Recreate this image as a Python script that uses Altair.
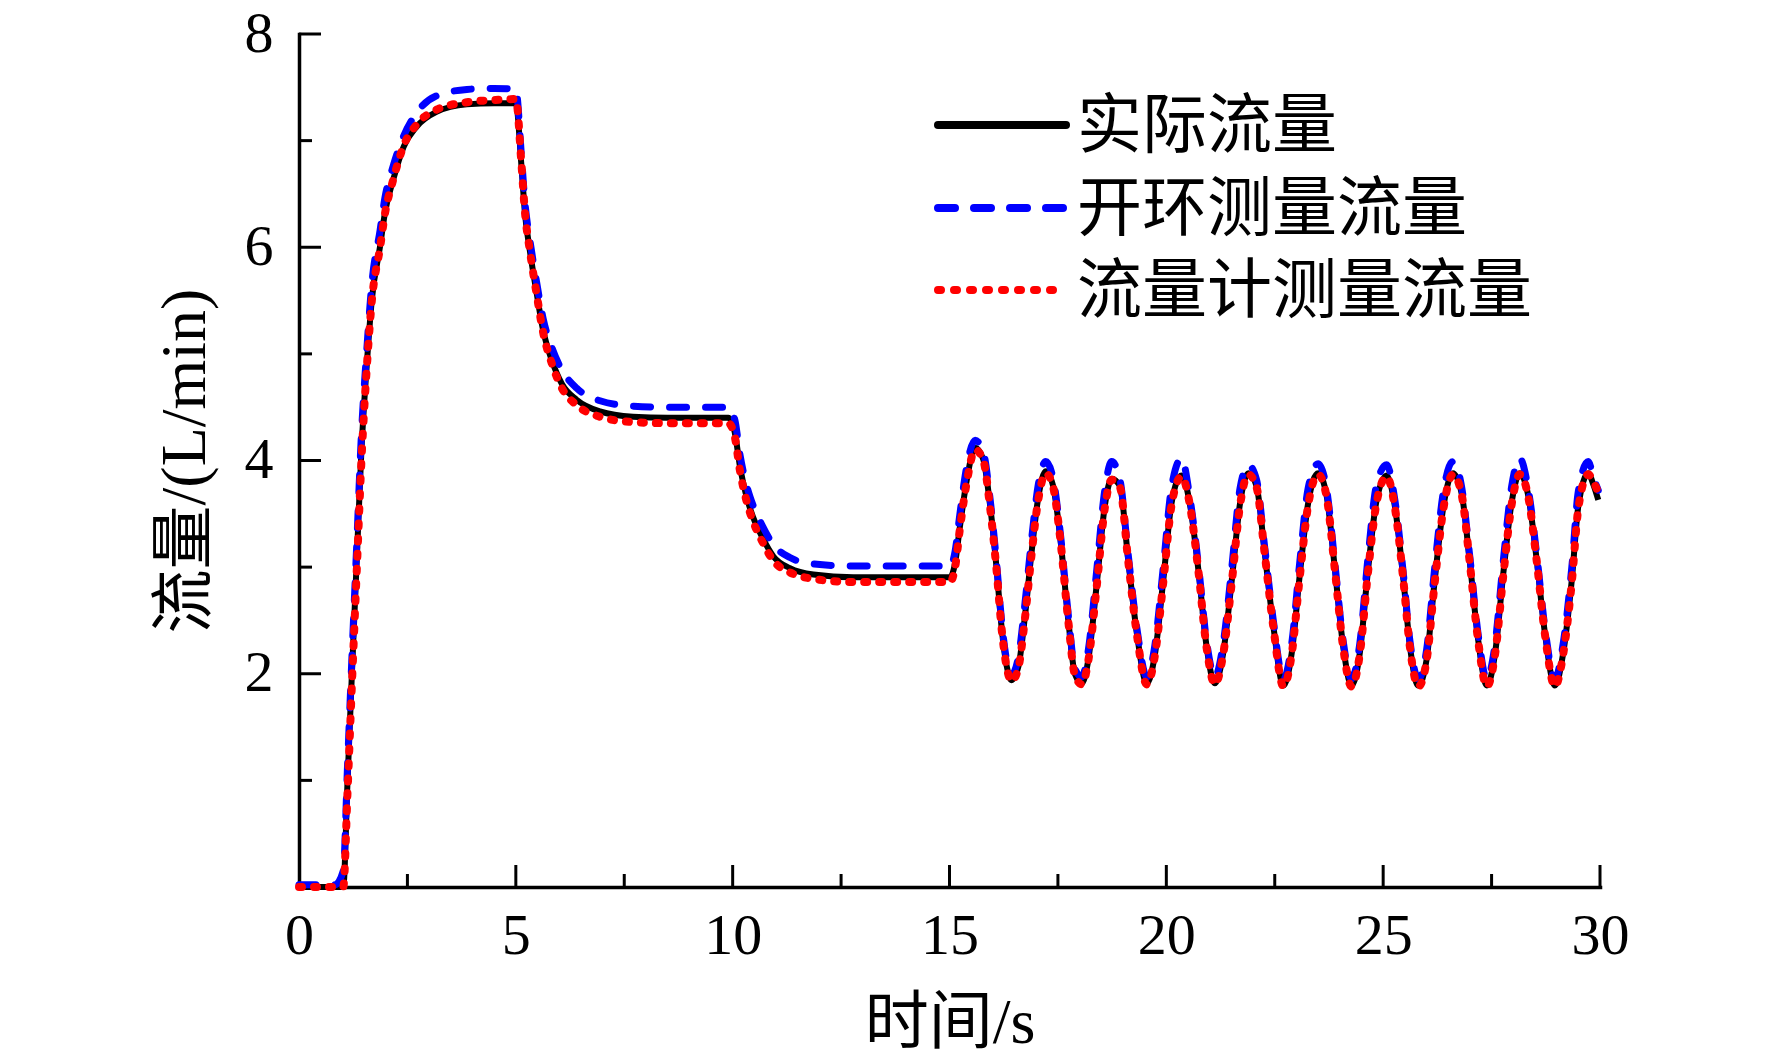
import altair as alt
import pandas as pd

# ---------------- data ----------------
SERIES = ["实际流量", "开环测量流量", "流量计测量流量"]

T_STEPS = [0, 0.5, 0.83, 1.02, 1.12, 1.22, 1.33, 1.44, 1.56, 1.68, 1.87, 1.98, 2.17, 2.41,
           2.71, 3.17, 3.87, 4.5, 5.0, 5.13, 5.21, 5.33, 5.48, 5.63, 5.83, 6.06, 6.40, 6.94,
           7.70, 8.5, 9.90, 10.05, 10.17, 10.32, 10.47, 10.67, 10.94, 11.32, 11.86, 12.78, 15.01]
ACTUAL_STEPS = [0, 0, 0, 0, 1.0, 2.0, 3.05, 4.1, 4.88, 5.51, 6.01, 6.32, 6.63, 6.94,
                7.13, 7.27, 7.34, 7.35, 7.35, 6.76, 6.32, 5.95, 5.57, 5.22, 4.94, 4.72, 4.57, 4.46,
                4.41, 4.40, 4.40, 4.26, 3.94, 3.66, 3.47, 3.29, 3.10, 2.99, 2.93, 2.905, 2.905]
OPEN_STEPS = [0.02, 0.02, 0.02, 0.15, 1.15, 2.15, 3.2, 4.25, 5.02, 5.66, 6.16, 6.46, 6.76, 7.04,
              7.26, 7.42, 7.48, 7.49, 7.48, 6.85, 6.42, 6.05, 5.67, 5.33, 5.06, 4.85, 4.68, 4.56,
              4.51, 4.50, 4.50, 4.38, 4.05, 3.77, 3.58, 3.40, 3.21, 3.09, 3.03, 3.01, 3.01]
METER_STEPS = [0, 0, 0, 0, 0.9, 1.9, 2.95, 4.0, 4.85, 5.5, 6.0, 6.31, 6.63, 6.95,
               7.15, 7.29, 7.36, 7.38, 7.39, 6.78, 6.33, 5.95, 5.56, 5.20, 4.91, 4.68, 4.52, 4.41,
               4.36, 4.35, 4.35, 4.22, 3.90, 3.62, 3.43, 3.25, 3.06, 2.95, 2.89, 2.86, 2.86]

T_OSC = [15.13, 15.24, 15.40, 15.59, 15.78, 15.93, 16.09, 16.20, 16.32, 16.43,
         16.59, 16.74, 16.89, 17.05, 17.22, 17.39, 17.55, 17.74, 17.89, 18.05,
         18.20, 18.39, 18.58, 18.74, 18.93, 19.12, 19.32, 19.55, 19.74, 19.93,
         20.12, 20.35, 20.54, 20.74, 20.93, 21.12, 21.31, 21.51, 21.70, 21.89,
         22.08, 22.27, 22.47, 22.70, 22.89, 23.08, 23.27, 23.50, 23.70, 23.89,
         24.08, 24.27, 24.46, 24.65, 24.85, 25.08, 25.27, 25.46, 25.62, 25.81,
         26.00, 26.19, 26.39, 26.61, 26.81, 27.00, 27.19, 27.39, 27.58, 27.77,
         27.96, 28.15, 28.35, 28.54, 28.73, 28.96, 29.15, 29.35, 29.50, 29.73,
         29.85, 29.96]
ACTUAL_OSC = [3.04, 3.38, 3.82, 4.12, 4.01, 3.60, 2.97, 2.44, 2.07, 1.94,
              2.07, 2.54, 3.13, 3.66, 3.90, 3.76, 3.29, 2.50, 2.00, 1.91,
              2.13, 2.82, 3.57, 3.83, 3.76, 3.07, 2.38, 1.91, 2.19, 2.88,
              3.60, 3.86, 3.60, 2.97, 2.25, 1.91, 2.19, 2.88, 3.60, 3.88,
              3.76, 3.13, 2.44, 1.89, 2.19, 2.94, 3.60, 3.88, 3.66, 2.97,
              2.25, 1.89, 2.19, 2.97, 3.63, 3.86, 3.57, 2.91, 2.25, 1.89,
              2.13, 2.88, 3.57, 3.88, 3.69, 3.04, 2.32, 1.89, 2.19, 2.94,
              3.60, 3.88, 3.66, 3.07, 2.38, 1.89, 2.19, 2.88, 3.57, 3.88,
              3.77, 3.63]
OPEN_OSC = [3.15, 3.50, 3.95, 4.19, 4.08, 3.66, 3.02, 2.50, 2.12, 1.99,
            2.16, 2.66, 3.25, 3.78, 3.99, 3.83, 3.34, 2.55, 2.05, 1.97,
            2.22, 2.95, 3.72, 3.99, 3.82, 3.12, 2.43, 1.97, 2.28, 3.00,
            3.75, 4.02, 3.66, 3.02, 2.30, 1.97, 2.28, 3.00, 3.74, 3.96,
            3.82, 3.18, 2.49, 1.95, 2.28, 3.06, 3.74, 3.97, 3.72, 3.02,
            2.30, 1.95, 2.28, 3.09, 3.78, 3.96, 3.63, 2.96, 2.30, 1.95,
            2.22, 3.00, 3.71, 3.99, 3.75, 3.09, 2.37, 1.95, 2.28, 3.06,
            3.75, 4.02, 3.72, 3.12, 2.43, 1.95, 2.28, 3.00, 3.71, 3.99,
            3.84, 3.72]
METER_OSC = [3.00, 3.36, 3.80, 4.10, 4.00, 3.58, 2.95, 2.43, 2.06, 1.93,
             2.06, 2.52, 3.11, 3.64, 3.88, 3.75, 3.28, 2.49, 1.99, 1.90,
             2.12, 2.80, 3.55, 3.82, 3.75, 3.06, 2.37, 1.90, 2.18, 2.86,
             3.58, 3.85, 3.59, 2.96, 2.24, 1.90, 2.18, 2.86, 3.58, 3.87,
             3.75, 3.12, 2.43, 1.88, 2.18, 2.92, 3.58, 3.87, 3.65, 2.96,
             2.24, 1.88, 2.18, 2.95, 3.61, 3.85, 3.56, 2.90, 2.24, 1.88,
             2.12, 2.86, 3.55, 3.87, 3.68, 3.03, 2.31, 1.88, 2.18, 2.92,
             3.58, 3.87, 3.65, 3.06, 2.37, 1.88, 2.18, 2.86, 3.55, 3.87,
             3.80, 3.70]

X_TICKS = [0, 5, 10, 15, 20, 25, 30]
X_MAJOR_MARKS = [5, 10, 15, 20, 25, 30]
X_MINOR_MARKS = [2.5, 7.5, 12.5, 17.5, 22.5, 27.5]
Y_TICKS = [2, 4, 6, 8]
Y_MINOR_MARKS = [1, 3, 5, 7]

# ---------------- layout / style ----------------
W, H = 1301, 853
FONT = "Liberation Serif, Times New Roman, Noto Sans CJK SC"
T_ALL = T_STEPS + T_OSC

xscale = alt.Scale(domain=[0, 30], nice=False, zero=False)
yscale = alt.Scale(domain=[0, 8], nice=False, zero=False)

xaxis = alt.Axis(values=X_TICKS, format="d", title="时间/s", grid=False,
                 ticks=False, tickSize=0, labelFlush=False, labelOverlap=False,
                 labelFont=FONT, labelFontSize=58, labelColor="black",
                 labelPadding=66, labelBaseline="alphabetic",
                 domainColor="black", domainWidth=3.5, domainCap="square",
                 titleFont=FONT, titleFontSize=64, titleFontWeight="normal",
                 titleColor="black", titleY=155, titleBaseline="alphabetic")
yaxis = alt.Axis(values=Y_TICKS, format="d", title="流量/(L/min)", grid=False,
                 ticks=False, tickSize=0, labelFlush=False, labelOverlap=False,
                 labelFont=FONT, labelFontSize=58, labelColor="black",
                 labelPadding=26,
                 domainColor="black", domainWidth=3.5, domainCap="square",
                 titleFont=FONT, titleFontSize=64, titleFontWeight="normal",
                 titleColor="black", titleAngle=270, titleX=-95, titleY=H / 2,
                 titleBaseline="alphabetic", titleAlign="center")

X = alt.X("t:Q", scale=xscale, axis=xaxis)
Y = alt.Y("v:Q", scale=yscale, axis=yaxis)

df_actual = pd.DataFrame({"t": T_ALL, "v": ACTUAL_STEPS + ACTUAL_OSC})
df_open = pd.DataFrame({"t": T_ALL, "v": OPEN_STEPS + OPEN_OSC})
df_meter = pd.DataFrame({"t": T_ALL, "v": METER_STEPS + METER_OSC})

line_actual = alt.Chart(df_actual).mark_line(
    color="black", strokeWidth=6, interpolate="monotone", strokeJoin="round"
).encode(x=X, y=Y)
line_open = alt.Chart(df_open).mark_line(
    color="#0000ff", strokeWidth=7, strokeDash=[17, 19], strokeCap="round",
    interpolate="monotone"
).encode(x=X, y=Y)
line_meter = alt.Chart(df_meter).mark_line(
    color="#ff0000", strokeWidth=8, strokeDash=[3, 12], strokeCap="round",
    interpolate="monotone"
).encode(x=X, y=Y)

# inward tick marks
xt_major = alt.Chart(pd.DataFrame({"t": X_MAJOR_MARKS})).mark_rule(
    color="black", strokeWidth=3).encode(x=X, y=alt.value(H), y2=alt.value(H - 22))
xt_minor = alt.Chart(pd.DataFrame({"t": X_MINOR_MARKS})).mark_rule(
    color="black", strokeWidth=3).encode(x=X, y=alt.value(H), y2=alt.value(H - 13))
yt_major = alt.Chart(pd.DataFrame({"v": Y_TICKS})).mark_rule(
    color="black", strokeWidth=3).encode(y=Y, x=alt.value(0), x2=alt.value(22))
yt_minor = alt.Chart(pd.DataFrame({"v": Y_MINOR_MARKS})).mark_rule(
    color="black", strokeWidth=3).encode(y=Y, x=alt.value(0), x2=alt.value(13))

# legend (manual, upper middle)
LX0, LX1, LTX = 639, 767, 778
ROWS = [91, 174, 256]
styles = [
    dict(color="black", strokeWidth=8, strokeCap="round"),
    dict(color="#0000ff", strokeWidth=8, strokeDash=[17, 19], strokeCap="round"),
    dict(color="#ff0000", strokeWidth=8, strokeDash=[3, 13], strokeCap="round"),
]
legend_layers = []
for name, ry, st in zip(SERIES, ROWS, styles):
    d = pd.DataFrame({"s": [name]})
    legend_layers.append(
        alt.Chart(d).mark_rule(**st).encode(
            x=alt.value(LX0), x2=alt.value(LX1), y=alt.value(ry))
    )
    legend_layers.append(
        alt.Chart(d).mark_text(font=FONT, fontSize=65, align="left",
                               baseline="middle", color="black").encode(
            x=alt.value(LTX), y=alt.value(ry + 2), text="s:N")
    )

chart = alt.layer(
    line_actual, line_open, line_meter,
    xt_major, xt_minor, yt_major, yt_minor,
    *legend_layers
).properties(
    width=W, height=H,
    autosize=alt.AutoSizeParams(type="none"),
    padding={"left": 291, "top": 26, "right": 150, "bottom": 168},
    background="white",
).configure_view(stroke=None)

chart.save("out.html", embed_options={"renderer": "svg", "actions": False})
